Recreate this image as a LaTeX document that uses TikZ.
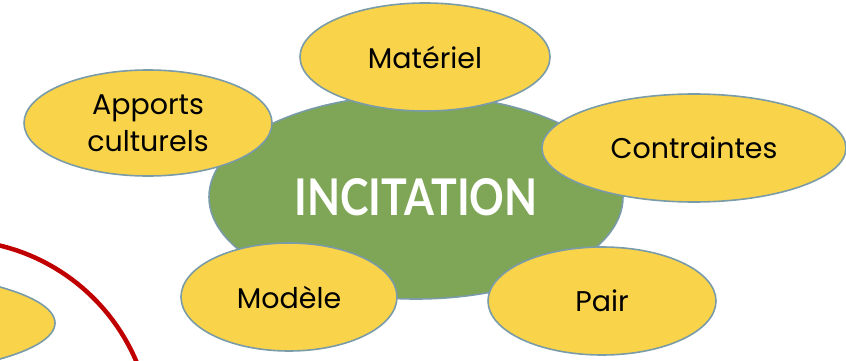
\documentclass[tikz,border=0pt]{standalone}
\usepackage{fontspec}
\setmainfont{Poppins}
\newfontfamily\corefont{Lato}
\usetikzlibrary{shapes.geometric}
\definecolor{petal}{RGB}{249,212,74}
\definecolor{core}{RGB}{126,166,86}
\definecolor{rim}{RGB}{122,155,168}
\definecolor{arcred}{RGB}{192,0,0}
\tikzset{
  blob/.style={ellipse, draw=rim, line width=1.6pt, fill=petal, inner sep=0pt,
    font=\fontsize{28.5}{37}\selectfont, text=black, align=center},
  corenode/.style={ellipse, draw=rim, line width=1.6pt, fill=core, inner sep=0pt,
    text=white},
}
\begin{document}
\begin{tikzpicture}[x=1pt,y=-1pt]
\useasboundingbox (0,0) rectangle (846,361);
\clip (0,0) rectangle (846,361);
% red arc
\node[circle, draw=arcred, line width=4.5pt, minimum size=398pt, inner sep=0pt] (arc) at (-47,439) {};
% partial ellipse bottom left
\node[blob, minimum width=432pt, minimum height=108pt] (hidden) at (-161,323) {};
% centre
\node[corenode, minimum width=414pt, minimum height=204pt] (inc) at (416,197)
  {\resizebox{243pt}{37pt}{\corefont\bfseries\fontsize{50}{50}\selectfont INCITATION}};
% petals
\node[blob, minimum width=250pt, minimum height=108pt] (mat) at (425,57) {Matériel};
\node[blob, minimum width=248pt, minimum height=106pt] (app) at (148,123) {Apports\\culturels};
\node[blob, minimum width=304pt, minimum height=108pt] (con) at (694,148) {Contraintes};
\node[blob, minimum width=216pt, minimum height=108pt] (mod) at (289,297) {Modèle};
\node[blob, minimum width=228pt, minimum height=108pt] (pai) at (602,301) {Pair};
\end{tikzpicture}
\end{document}
